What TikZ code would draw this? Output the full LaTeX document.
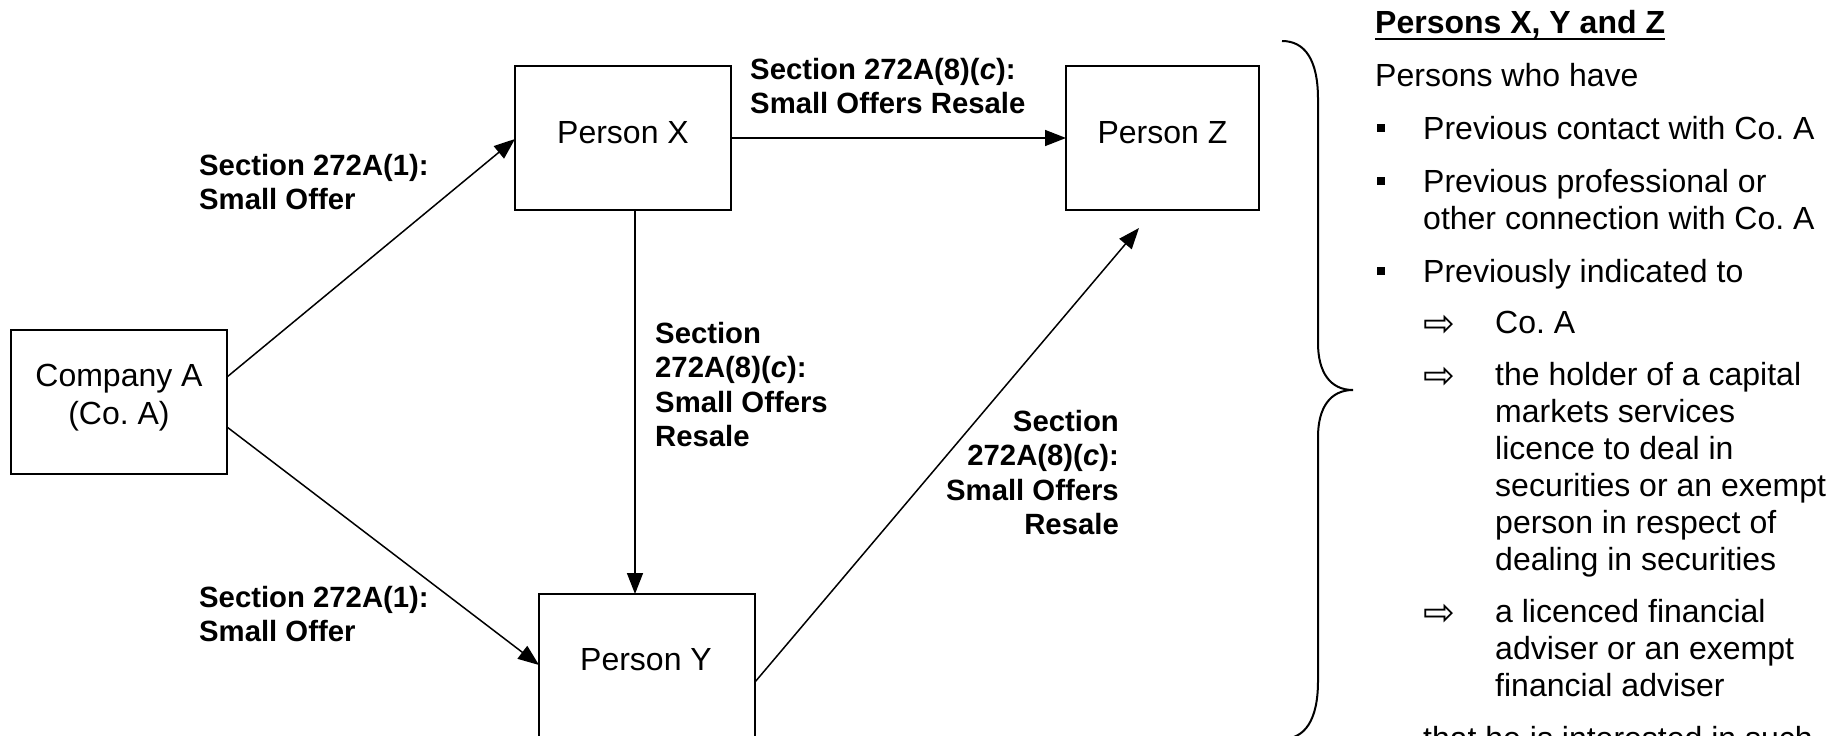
\documentclass[tikz,border=0pt]{standalone}
\usepackage{fontspec}
\setmainfont{Liberation Sans}
\newfontfamily\symfont{DejaVu Sans}
\usetikzlibrary{arrows.meta}
\frenchspacing

\begin{document}
\begin{tikzpicture}[x=1pt,y=-1pt,
  box/.style={draw, line width=2.2pt, minimum width=216pt, minimum height=144pt,
    anchor=north west, inner sep=0pt, outer sep=0pt},
  boxtext/.style={font=\fontsize{32}{38}\selectfont, align=center, inner sep=0pt, anchor=base},
  lab/.style={font=\fontsize{29.3}{34.5}\selectfont\bfseries, align=left, inner sep=0pt, anchor=base west},
  body/.style={font=\fontsize{32}{37}\selectfont, align=left, inner sep=0pt, anchor=base west},
  subarrow/.style={font=\symfont\fontsize{38}{38}\selectfont, inner sep=0pt, anchor=base west},
  flow/.style={line width=1.5pt, -{Triangle[length=21pt,width=16pt]}},
]
\fill[white] (0,0) rectangle (1847,736);
\useasboundingbox (0,0) rectangle (1847,736);
\clip (0,0) rectangle (1847,736);

% boxes
\node[box] (ca) at (11,330) {};
\node[box] (px) at (515,66) {};
\node[box, minimum width=193pt] (pz) at (1066,66) {};
\node[box] (py) at (539,594) {};

% box captions (multi-line nodes are placed by the baseline of their last line)
\node[boxtext] (cat) at (119,424) {Company A\\(Co. A)};
\node[boxtext] (pxt) at (623,143) {Person X};
\node[boxtext] (pzt) at (1162.5,143) {Person Z};
\node[boxtext] (pyt) at (646,670) {Person Y};

% free end of the resale arrow below Person Z
\coordinate (ztip) at (1139,228);

% connectors
\draw[flow] ([yshift=-47pt]ca.north east) -- ([yshift=-73pt]px.north west);
\draw[flow] ([yshift=-97pt]ca.north east) -- ([yshift=-71pt]py.north west);
\draw[flow] ([yshift=-72pt]px.north east) -- ([yshift=-72pt]pz.north west);
\draw[flow] ([xshift=120pt]px.south west) -- ([xshift=96pt]py.north west);
\draw[flow] ([yshift=-88pt]py.north east) -- (ztip);

% connector labels
\node[lab] (l1) at (199,209.5) {Section 272A(1):\\Small Offer};
\node[lab] (l2) at (199,641.5) {Section 272A(1):\\Small Offer};
\node[lab] (l3) at (655,446.5) {Section\\272A(8)(\textit{c}):\\Small Offers\\Resale};
\node[lab] (l4) at (750,113.5) {Section 272A(8)(\textit{c}):\\Small Offers Resale};
\node[lab, align=right, anchor=base east] (l5) at (1119,534.5) {Section\\272A(8)(\textit{c}):\\Small Offers\\Resale};

% curly brace
\draw[line width=2pt] (1282,41) .. controls (1305,41) and (1318,60) .. (1318,99)
  -- (1318,343) .. controls (1318,372) and (1330,390) .. (1353,390)
  .. controls (1330,390) and (1318,408) .. (1318,437)
  -- (1318,681) .. controls (1318,720) and (1305,739) .. (1282,739);

% explanatory text
\node[body, font=\fontsize{32}{37}\selectfont\bfseries] (hd) at (1375,33) {Persons X, Y and Z};
\draw[line width=2.5pt] ([yshift=-6pt]hd.base west) -- ([yshift=-6pt]hd.base east);
\node[body] (who) at (1375,86) {Persons who have};

\node[body] (b1) at (1423,139) {Previous contact with Co. A};
\node[body] (b2) at (1423,229) {Previous professional or\\other connection with Co. A};
\node[body] (b3) at (1423,282) {Previously indicated to};
\foreach \yb in {139,192,282}
  \fill (1377,\yb-15) rectangle (1385,\yb-7);

\node[subarrow] (a1) at (1423,336) {⇨};
\node[body] (s1) at (1495,333) {Co. A};
\node[subarrow] (a2) at (1423,388) {⇨};
\node[body] (s2) at (1495,570) {the holder of a capital\\markets services\\licence to deal in\\securities or an exempt\\person in respect of\\dealing in securities};
\node[subarrow] (a3) at (1423,625) {⇨};
\node[body] (s3) at (1495,696) {a licenced financial\\adviser or an exempt\\financial adviser};

\node[body] (tail) at (1423,749) {that he is interested in such};
\end{tikzpicture}
\end{document}
